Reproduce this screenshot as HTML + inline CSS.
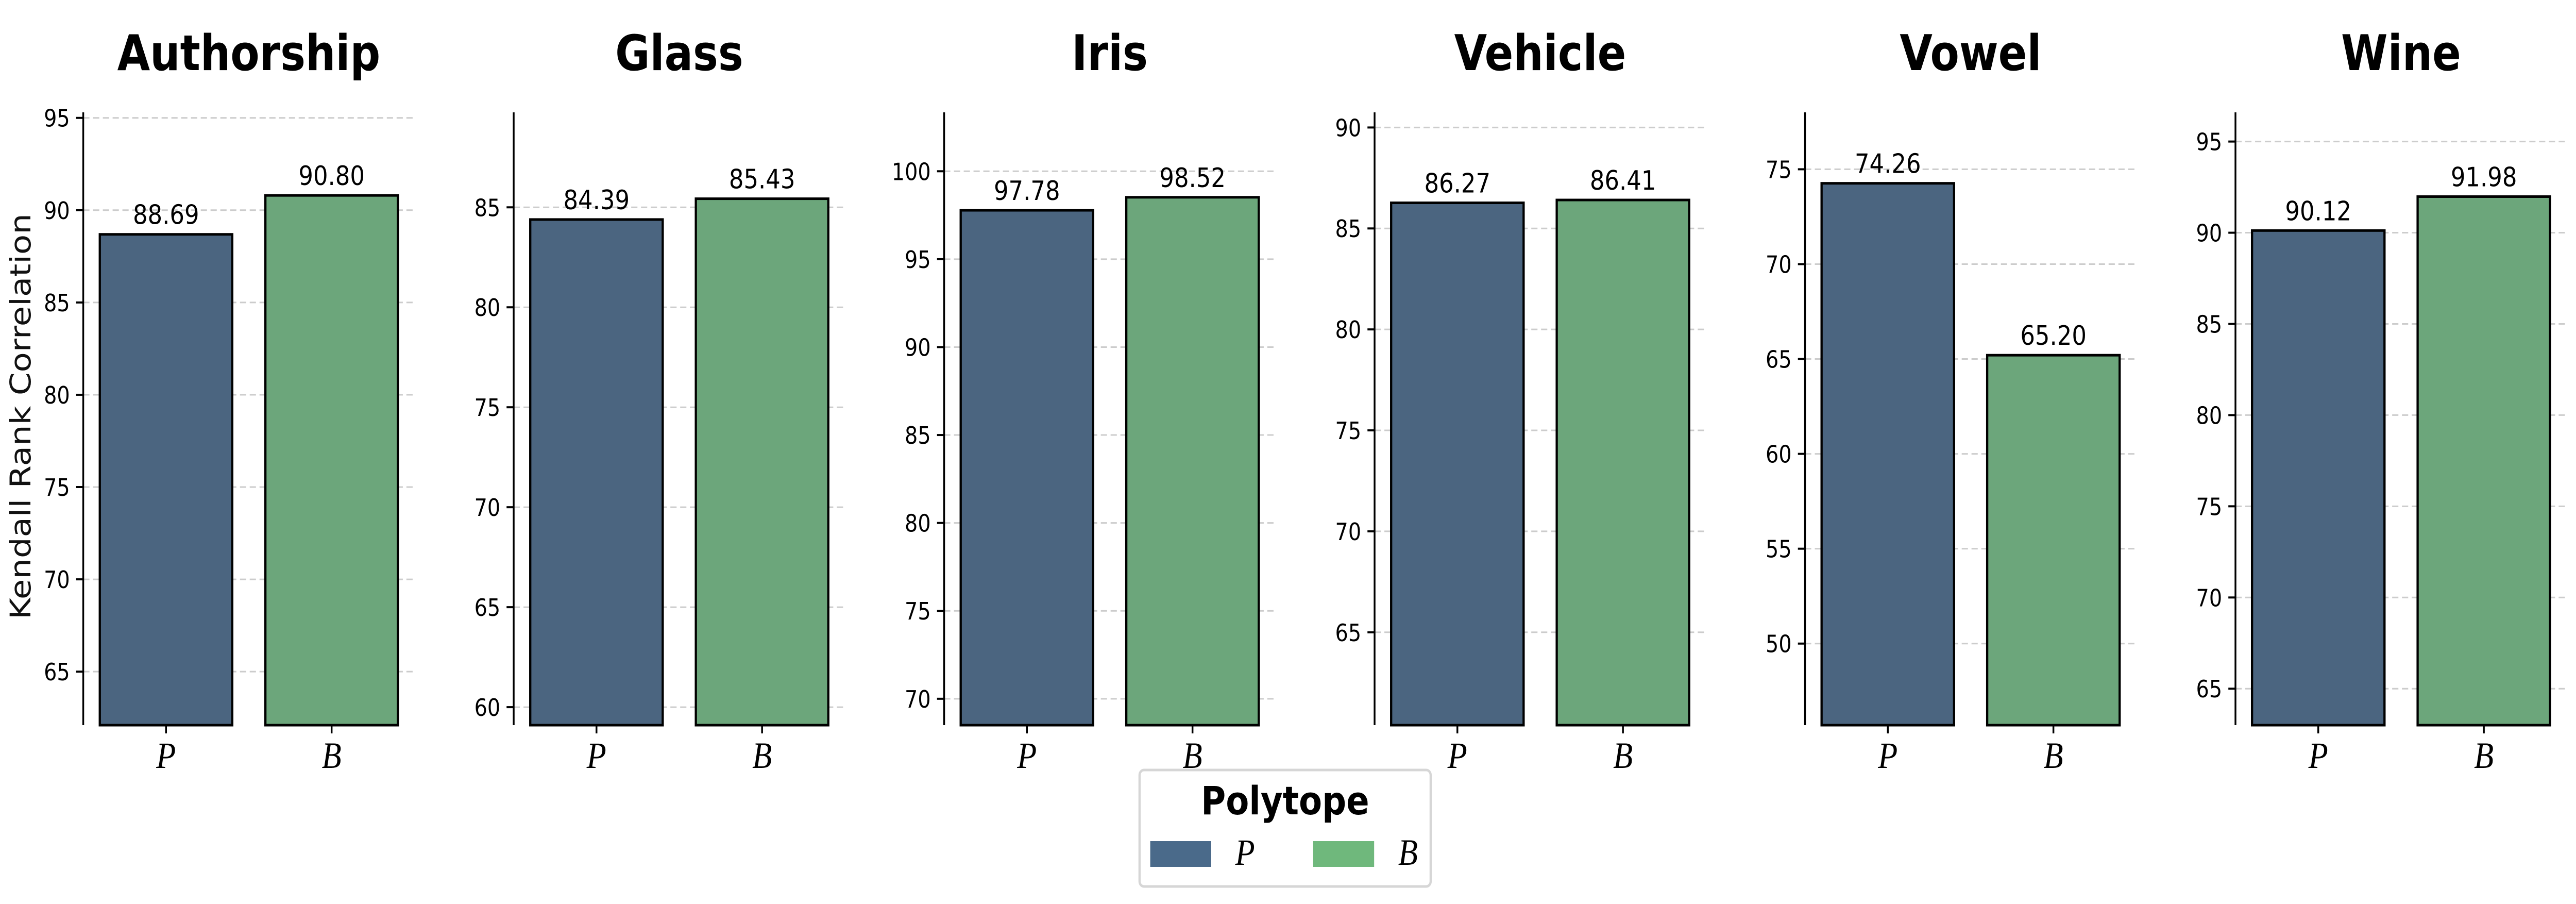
<!DOCTYPE html>
<html><head><meta charset="utf-8"><style>
html,body{margin:0;padding:0;background:#fff;overflow:hidden;width:100%;height:100%;}
svg{display:block;font-family:"DejaVu Sans","Liberation Sans",sans-serif;width:100vw;height:100vh;}
</style></head><body>
<svg id="chart" viewBox="0 0 5787 1754" preserveAspectRatio="none" xmlns="http://www.w3.org/2000/svg">
<text x="0" y="0" transform="translate(68,808) rotate(-90)" text-anchor="middle" font-size="64" fill="#111">Kendall Rank Correlation</text>
<g id="panels"></g>
<g>
  <rect x="2560" y="1494" width="654" height="226" rx="10" fill="#fff" stroke="#d6d6d6" stroke-width="5"/>
  <text x="2887" y="1580" text-anchor="middle" font-size="76" font-weight="bold">Polytope</text>
  <rect x="2584" y="1632" width="137" height="50" fill="#4a6a8a"/>
  <text x="2797" y="1678" text-anchor="middle" font-family="Liberation Serif, serif" font-style="italic" font-size="72">P</text>
  <rect x="2950" y="1632" width="137" height="50" fill="#6fb87c"/>
  <text x="3163" y="1678" text-anchor="middle" font-family="Liberation Serif, serif" font-style="italic" font-size="72">B</text>
</g>
</svg>
<script>
const datasets = ["Authorship","Glass","Iris","Vehicle","Vowel","Wine"];
const categories = ["P","B"];
const valuesP = [88.69, 84.39, 97.78, 86.27, 74.26, 90.12];
const valuesB = [90.80, 85.43, 98.52, 86.41, 65.20, 91.98];
const yMins = [62.1, 59.1, 68.5, 60.4, 45.7, 63.0];
const yMaxs = [95.3, 89.75, 103.35, 90.75, 78.0, 96.6];
const tickLists = [[65,70,75,80,85,90,95],[60,65,70,75,80,85],[70,75,80,85,90,95,100],[65,70,75,80,85,90],[50,55,60,65,70,75],[65,70,75,80,85,90,95]];

const NS = "http://www.w3.org/2000/svg";
const root = document.getElementById('panels');
const fills = ["#4b6580","#6ca67b"];
const top0 = 218, bot0 = 1407, axW = 744;
function mk(tag, attrs, parent){const e=document.createElementNS(NS,tag);for(const k in attrs)e.setAttribute(k,attrs[k]);parent.appendChild(e);return e;}

datasets.forEach((name, i) => {
  const x0 = 187 + 967*i;
  const ymin = yMins[i], ymax = yMaxs[i];
  const yS = v => bot0 - (v - ymin)/(ymax - ymin)*(bot0 - top0);
  const xS = c => x0 + (c + 0.5)/2*axW;
  const g = mk('g', {}, root);
  
  
  const t = mk('text', {x: x0 + axW/2, y: 136, 'text-anchor':'middle', 'font-size':95, 'font-weight':'bold'}, g);
  
  
  t.textContent = name;
  tickLists[i].forEach(v => {
    const y = yS(v);
    const gl = mk('line', {x1:x0, x2:x0+axW, y1:y, y2:y, stroke:'#cccccc', 'stroke-width':3, 'stroke-dasharray':'14,8'}, g);
    
    
    const tk = mk('line', {x1:x0-16, x2:x0, y1:y, y2:y, stroke:'#000', 'stroke-width':4}, g);
    
    
    const tl = mk('text', {x:x0-30, y:y+17, 'text-anchor':'end', 'font-size':46}, g);
    
    
    tl.textContent = v;
  });
  const vals = [valuesP[i], valuesB[i]];
  vals.forEach((v, c) => {
    const cx = xS(c), bw = 0.8/2*axW, y = yS(v);
    const b = mk('rect', {x:cx-bw/2, y:y, width:bw, height:bot0-y, fill:fills[c], stroke:'#000', 'stroke-width':5}, g);
    
    
    const vl = mk('text', {x:cx, y:y-20, 'text-anchor':'middle', 'font-size':52}, g);
    
    
    vl.textContent = v.toFixed(2);
    const xt = mk('line', {x1:cx, x2:cx, y1:bot0, y2:bot0+16, stroke:'#000', 'stroke-width':4}, g);
    
    
    const xl = mk('text', {x:cx, y:1490, 'text-anchor':'middle', 'font-size':72, 'font-style':'italic', 'font-family':'Liberation Serif, serif'}, g);
    
    
    xl.textContent = categories[c];
  });
  const ax = mk('line', {x1:x0, x2:x0, y1:top0, y2:bot0, stroke:'#000', 'stroke-width':4}, g);
  
  
});
</script>
</body></html>
